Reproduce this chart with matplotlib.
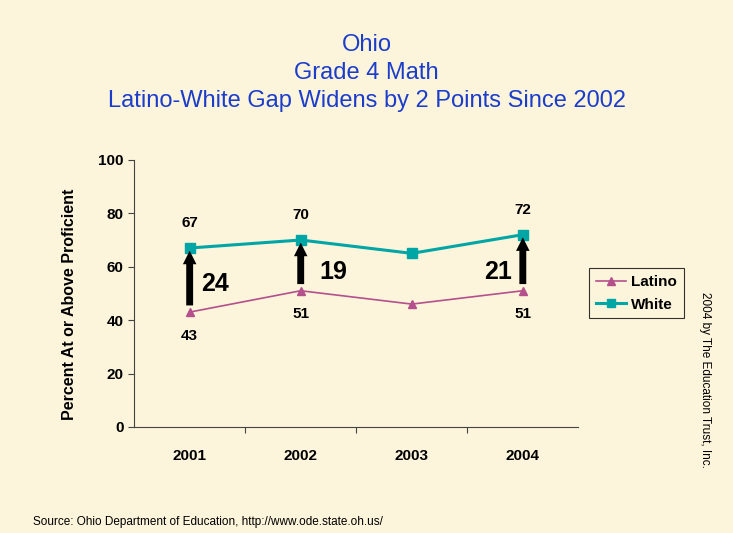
import matplotlib.pyplot as plt

plt.rcParams['font.family'] = ['Liberation Sans', 'DejaVu Sans']

# data
years = ['2001', '2002', '2003', '2004']
latino = [43, 51, 46, 51]
white = [67, 70, 65, 72]
gap_years = [0, 1, 3]
gap_labels = ['24', '19', '21']
latino_labels = ['43', '51', '', '51']
white_labels = ['67', '70', '', '72']

bg = '#FCF4DB'
fig = plt.figure(figsize=(7.33, 5.33), dpi=100, facecolor=bg)
ax = fig.add_axes([0.183, 0.199, 0.606, 0.501], facecolor=bg)

x = list(range(len(years)))
ax.plot(x, latino, color='#B4508C', lw=1.2, marker='^', ms=6, label='Latino')
ax.plot(x, white, color='#00A6A6', lw=2.2, marker='s', ms=7, label='White')

for i in gap_years:
    ax.annotate('', xy=(i, white[i] - 1.0), xytext=(i, latino[i] + 2.5),
                arrowprops=dict(arrowstyle='simple,head_length=0.65,head_width=0.65,tail_width=0.33',
                                mutation_scale=15, color='black', lw=0, shrinkA=0, shrinkB=0))

# gap numbers
ax.text(0.1, 53.5, gap_labels[0], fontsize=18, fontweight='bold', va='center', ha='left')
ax.text(1.17, 58, gap_labels[1], fontsize=18, fontweight='bold', va='center', ha='left')
ax.text(2.9, 58, gap_labels[2], fontsize=18, fontweight='bold', va='center', ha='right')

for i in x:
    if white_labels[i]:
        ax.annotate(white_labels[i], (i, white[i]), xytext=(0, 18), textcoords='offset points',
                    ha='center', va='center', fontsize=11, fontweight='bold')
    if latino_labels[i]:
        ax.annotate(latino_labels[i], (i, latino[i]), xytext=(0, -17), textcoords='offset points',
                    ha='center', va='center', fontsize=11, fontweight='bold')

ax.set_xlim(-0.5, 3.5)
ax.set_ylim(0, 100)
ax.set_yticks(range(0, 101, 20))
ax.set_xticks(x)
ax.set_xticks([0.5, 1.5, 2.5], minor=True)
ax.set_xticklabels(years, fontsize=11, fontweight='bold')
ax.tick_params(axis='x', which='major', length=0, pad=16)
ax.tick_params(axis='x', which='minor', direction='out', length=4, width=0.8, color='#444444')
ax.tick_params(axis='y', direction='out', length=4, labelsize=11, width=0.8, color='#444444')
for lbl in ax.get_yticklabels():
    lbl.set_fontweight('bold')
ax.spines['top'].set_visible(False)
ax.spines['right'].set_visible(False)
ax.spines['left'].set_color('#444444')
ax.spines['bottom'].set_color('#444444')
ax.set_ylabel('Percent At or Above Proficient', fontsize=11.5, fontweight='bold')
ax.yaxis.set_label_coords(-0.128, 0.46)

leg = ax.legend(loc='upper left', bbox_to_anchor=(1.024, 0.594), fontsize=11,
                frameon=True, fancybox=False, edgecolor='black', facecolor=bg,
                handlelength=2.0, handletextpad=0.3, borderpad=0.45, labelspacing=0.55,
                borderaxespad=0, markerscale=0.85)
leg.get_frame().set_linewidth(0.8)
for t in leg.get_texts():
    t.set_fontweight('bold')

tc = '#1B3DCB'
fig.text(0.5, 0.915, 'Ohio', ha='center', va='center', fontsize=17, color=tc)
fig.text(0.5, 0.863, 'Grade 4 Math', ha='center', va='center', fontsize=17, color=tc)
fig.text(0.5, 0.81, 'Latino-White Gap Widens by 2 Points Since 2002', ha='center', va='center',
         fontsize=17, color=tc)

fig.text(0.962, 0.452, '2004 by The Education Trust, Inc.', rotation=270, ha='center', va='top',
         fontsize=8.5)
fig.text(0.045, 0.021, 'Source: Ohio Department of Education, http://www.ode.state.oh.us/',
         fontsize=8.5, ha='left', va='center')

plt.savefig('out.png', dpi=100, facecolor=bg)
